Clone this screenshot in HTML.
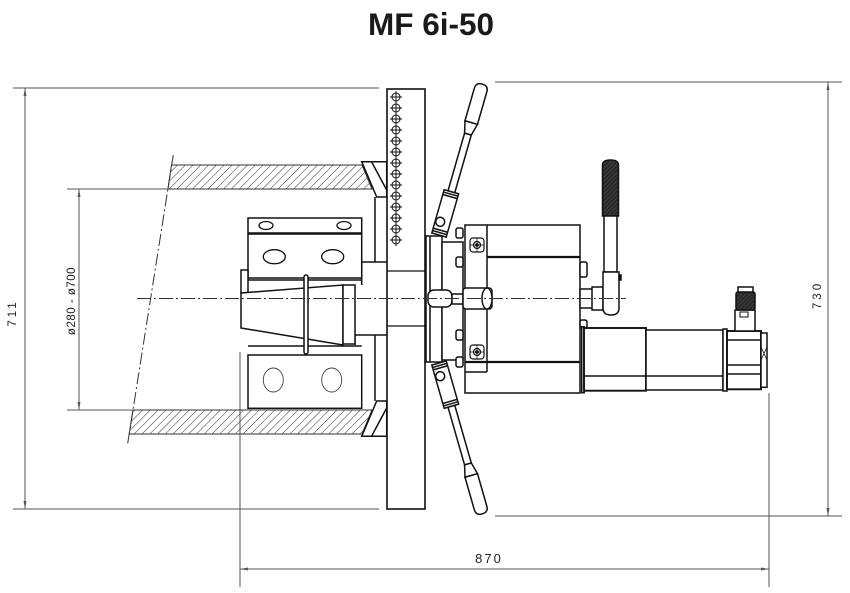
<!DOCTYPE html>
<html><head><meta charset="utf-8"><style>
html,body{margin:0;padding:0;background:#fff;}
svg{display:block;}
text{font-family:"Liberation Sans",Arial,sans-serif;}
</style></head><body>
<svg width="850" height="593" viewBox="0 0 850 593" xmlns="http://www.w3.org/2000/svg">
<defs>
<pattern id="h" patternUnits="userSpaceOnUse" width="5.5" height="5.5" patternTransform="rotate(45)">
<line x1="0" y1="0" x2="0" y2="5.5" stroke="#333" stroke-width="1"/>
</pattern>
<pattern id="k" patternUnits="userSpaceOnUse" width="3" height="3" patternTransform="rotate(45)">
<rect width="3" height="3" fill="#2a2a2a"/>
<line x1="0" y1="0" x2="0" y2="3" stroke="#666" stroke-width="0.6"/>
</pattern>
</defs>
<rect width="850" height="593" fill="#fff"/>

<!-- Title -->
<text x="431" y="35" font-size="31.5" font-weight="bold" text-anchor="middle" fill="#1a1a1a">MF 6i-50</text>

<!-- ===== Dimensions ===== -->
<g stroke="#555" stroke-width="1" fill="none">
<line x1="13" y1="88" x2="379" y2="88"/>
<line x1="13" y1="509" x2="379" y2="509"/>
<line x1="25" y1="88" x2="25" y2="509"/>
<line x1="67" y1="189" x2="372" y2="189"/>
<line x1="67" y1="410" x2="372" y2="410"/>
<line x1="79" y1="189" x2="79" y2="410"/>
<line x1="495" y1="82" x2="842" y2="82"/>
<line x1="495" y1="516" x2="842" y2="516"/>
<line x1="828" y1="82" x2="828" y2="516"/>
<line x1="240" y1="352" x2="240" y2="587"/>
<line x1="769" y1="393" x2="769" y2="587"/>
<line x1="240" y1="569" x2="769" y2="569"/>
</g>
<g fill="#555">
<polygon points="25,88 23.5,96 26.5,96"/><polygon points="25,509 23.5,501 26.5,501"/>
<polygon points="79,189 77.5,197 80.5,197"/><polygon points="79,410 77.5,402 80.5,402"/>
<polygon points="828,82 826.5,90 829.5,90"/><polygon points="828,516 826.5,508 829.5,508"/>
<polygon points="240,569 248,567.5 248,570.5"/><polygon points="769,569 761,567.5 761,570.5"/>
</g>
<g font-size="11.5" fill="#222">
<text transform="translate(16,313) rotate(-90)" text-anchor="middle" letter-spacing="3">711</text>
<text transform="translate(75,301) rotate(-90)" text-anchor="middle" letter-spacing="0.5">ø280 - ø700</text>
<text transform="translate(821,295) rotate(-90)" text-anchor="middle" letter-spacing="3">730</text>
<text x="489" y="563" text-anchor="middle" font-size="13" letter-spacing="2">870</text>
</g>

<!-- ===== Pipe (hatched) ===== -->
<polygon points="171.5,165 362,165 372,189 167.9,189" fill="url(#h)" stroke="#333" stroke-width="1"/>
<polygon points="133,410 372,410 362,434 129.2,434" fill="url(#h)" stroke="#333" stroke-width="1"/>
<line x1="173.3" y1="155" x2="127.7" y2="443.3" stroke="#333" stroke-width="1" stroke-dasharray="12 3 2 3"/>

<!-- wedges -->
<g stroke="#111" stroke-width="1.5" fill="#fff">
<polygon points="361.7,161.7 386.7,161.7 386.7,197 376.7,197"/>
<line x1="371.5" y1="161.7" x2="386.7" y2="190"/>
<polygon points="361.7,436.3 386.7,436.3 386.7,401 376.7,401"/>
<line x1="371.5" y1="436.3" x2="386.7" y2="408"/>
</g>

<!-- ===== Tool body (left) ===== -->
<g stroke="#111" stroke-width="1.5" fill="#fff">
<line x1="375" y1="197" x2="375" y2="262"/>
<line x1="375" y1="335" x2="375" y2="401"/>
<polyline points="361.7,285 361.7,262 387,262" fill="none"/>
<polyline points="355,345 355,335 387,335" fill="none"/>
<rect x="248" y="218" width="113.7" height="15"/>
<rect x="248" y="234" width="113.7" height="44"/>
<line x1="248" y1="280" x2="361.7" y2="280"/>
<rect x="241" y="270" width="7" height="23"/>
<polygon points="241,293 343,285 343,345 241,328"/>
<rect x="343" y="285" width="12" height="59"/>
<line x1="248" y1="346" x2="361.7" y2="346"/>
<rect x="248" y="355" width="113.7" height="53.3"/>
<rect x="304" y="275" width="4" height="79" rx="2"/>
</g>
<g stroke="#111" stroke-width="1.3" fill="none">
<ellipse cx="266" cy="225.5" rx="7" ry="4"/>
<ellipse cx="344" cy="225.5" rx="7" ry="4"/>
<ellipse cx="274.3" cy="256.7" rx="11" ry="7"/>
<ellipse cx="332.7" cy="256.7" rx="11" ry="7"/>
</g>
<g stroke="#444" stroke-width="0.9" fill="none">
<ellipse cx="273.3" cy="380" rx="10" ry="12"/>
<ellipse cx="331.7" cy="380" rx="10" ry="12"/>
</g>

<!-- ===== Flange plate ===== -->
<rect x="387" y="89" width="38" height="420" fill="#fff" stroke="#111" stroke-width="1.6"/>
<g stroke="#111" stroke-width="1.3">
<line x1="387" y1="271" x2="430" y2="271"/>
<line x1="387" y1="326" x2="430" y2="326"/>
</g>
<g stroke="#111" stroke-width="1" fill="#fff">
<line x1="396" y1="91" x2="396" y2="246"/>
<circle cx="396" cy="97" r="4"/><circle cx="396" cy="108" r="4"/><circle cx="396" cy="119" r="4"/>
<circle cx="396" cy="130" r="4"/><circle cx="396" cy="141" r="4"/><circle cx="396" cy="152" r="4"/>
<circle cx="396" cy="163" r="4"/><circle cx="396" cy="174" r="4"/><circle cx="396" cy="185" r="4"/>
<circle cx="396" cy="196" r="4"/><circle cx="396" cy="207" r="4"/><circle cx="396" cy="218" r="4"/>
<circle cx="396" cy="229" r="4"/><circle cx="396" cy="240" r="4"/>
<path d="M390 97h12M390 108h12M390 119h12M390 130h12M390 141h12M390 152h12M390 163h12M390 174h12M390 185h12M390 196h12M390 207h12M390 218h12M390 229h12M390 240h12M396 91V246"/>
</g>

<!-- ===== Handwheel ring ===== -->
<g stroke="#111" stroke-width="1.5" fill="#fff">
<rect x="426" y="236" width="16" height="126"/>
<line x1="430" y1="236" x2="430" y2="362"/>
<rect x="442" y="242" width="21" height="118"/>
</g>

<!-- Handles -->
<g transform="translate(439,235) rotate(16)" stroke="#111" stroke-width="1.5" fill="#fff">
<rect x="-7.5" y="-45" width="15" height="45"/>
<line x1="-7.5" y1="-2.5" x2="7.5" y2="-2.5"/>
<line x1="-7.5" y1="-5" x2="7.5" y2="-5"/>
<line x1="-7.5" y1="-40" x2="7.5" y2="-40"/>
<line x1="-7.5" y1="-42.5" x2="7.5" y2="-42.5"/>
<circle cx="-2.5" cy="-13" r="4.5"/>
<rect x="-3.5" y="-105" width="7" height="60"/>
<polygon points="-3.5,-105 3.5,-105 6.5,-117 -6.5,-117"/>
<path d="M-6.5,-117 L-6.5,-151 Q-6.5,-157 0,-157 Q6.5,-157 6.5,-151 L6.5,-117 Z"/>
</g>
<g transform="matrix(1 0 0 -1 0 598)">
<g transform="translate(439,235) rotate(16)" stroke="#111" stroke-width="1.5" fill="#fff">
<rect x="-7.5" y="-45" width="15" height="45"/>
<line x1="-7.5" y1="-2.5" x2="7.5" y2="-2.5"/>
<line x1="-7.5" y1="-5" x2="7.5" y2="-5"/>
<line x1="-7.5" y1="-40" x2="7.5" y2="-40"/>
<line x1="-7.5" y1="-42.5" x2="7.5" y2="-42.5"/>
<circle cx="-2.5" cy="-13" r="4.5"/>
<rect x="-3.5" y="-105" width="7" height="60"/>
<polygon points="-3.5,-105 3.5,-105 6.5,-117 -6.5,-117"/>
<path d="M-6.5,-117 L-6.5,-151 Q-6.5,-157 0,-157 Q6.5,-157 6.5,-151 L6.5,-117 Z"/>
</g>
</g>

<!-- ===== Gearbox ===== -->
<g stroke="#111" stroke-width="1.5" fill="#fff">
<rect x="456" y="228" width="7" height="10" rx="2"/>
<rect x="456" y="257" width="7" height="10" rx="2"/>
<rect x="456" y="330" width="7" height="10" rx="2"/>
<rect x="456" y="357" width="7" height="10" rx="2"/>
<rect x="465" y="225" width="115" height="168"/>
<line x1="487" y1="225" x2="487" y2="372"/>
<line x1="465" y1="372" x2="487" y2="372"/>
<rect x="580" y="262" width="7" height="15" rx="2"/>
<rect x="580" y="320" width="7" height="8" rx="2"/>
</g>
<g stroke="#111" stroke-width="2.2">
<line x1="487" y1="257" x2="580" y2="257"/>
<line x1="465" y1="362" x2="580" y2="362"/>
</g>
<g stroke="#111" stroke-width="1.2" fill="#fff">
<rect x="470" y="238" width="14" height="14" rx="3"/>
<circle cx="477" cy="245" r="3.5"/><circle cx="477" cy="245" r="1.3"/>
<path d="M477 238.5v13M470.5 245h13" stroke-width="0.7"/>
<rect x="470" y="345" width="14" height="14" rx="3"/>
<circle cx="477" cy="352" r="3.5"/><circle cx="477" cy="352" r="1.3"/>
<path d="M477 345.5v13M470.5 352h13" stroke-width="0.7"/>
</g>

<!-- Center shaft -->
<g stroke="#111" stroke-width="1.5" fill="#fff">
<rect x="428" y="290" width="24" height="17" rx="6"/>
<rect x="452" y="294" width="11" height="10"/>
<rect x="463" y="288" width="29" height="21" rx="3"/>
<ellipse cx="487" cy="298.5" rx="5" ry="10.5"/>
<rect x="580" y="289" width="13" height="19"/>
<rect x="592" y="287" width="11" height="23"/>
</g>

<!-- Lever -->
<g stroke="#111" stroke-width="1.5">
<path d="M602.5,216 L602.5,165 Q602.5,160 610.5,160 Q618.5,160 618.5,165 L618.5,216 Z" fill="url(#k)"/>
<rect x="604" y="216" width="13" height="56" fill="#fff"/>
<path d="M603,272 L619,272 L619,308 Q619,315 611,315 Q603,315 603,308 Z" fill="#fff"/>
<rect x="619" y="275" width="2" height="5" fill="#111"/>
</g>

<!-- Motor -->
<g stroke="#111" stroke-width="1.5" fill="#fff">
<rect x="583" y="345" width="8" height="13" rx="2"/>
<rect x="581.7" y="326.7" width="2.5" height="66"/>
<rect x="584" y="328" width="62" height="62.7" stroke-width="1.9"/>
<rect x="646" y="330" width="77" height="60"/>
<line x1="584" y1="376" x2="723" y2="376"/>
<rect x="723" y="329" width="4" height="62"/>
<rect x="727" y="331" width="34" height="58.3" stroke-width="1.9"/>
<line x1="727" y1="340" x2="761" y2="340"/>
<line x1="727" y1="365" x2="761" y2="365"/>
<line x1="727" y1="374" x2="761" y2="374"/>
<rect x="761" y="333" width="6" height="54.3"/>
<path d="M761 347L767 360M761 360L767 347" stroke-width="0.8" fill="none"/>
<rect x="735" y="310" width="20" height="21"/>
<rect x="740" y="312" width="8" height="5" stroke-width="1"/>
<rect x="736" y="292" width="19" height="18" rx="2" fill="url(#k)"/>
<rect x="738" y="287" width="15" height="5"/>
</g>

<!-- Center line -->
<line x1="137" y1="298.5" x2="626" y2="298.5" stroke="#333" stroke-width="1" stroke-dasharray="14 3 2 3"/>
</svg>
</body></html>
